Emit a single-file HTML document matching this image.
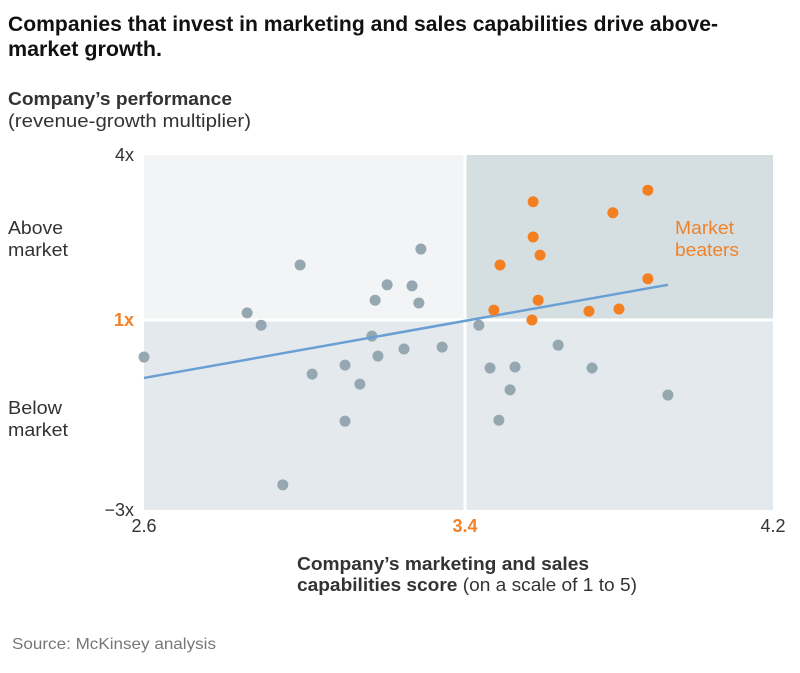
<!DOCTYPE html>
<html><head><meta charset="utf-8"><style>
body{margin:0;background:#fff;font-family:"Liberation Sans",sans-serif;}
svg text{font-family:"Liberation Sans",sans-serif;}
</style></head><body>
<svg width="800" height="668" viewBox="0 0 800 668">
<text x="8" y="31" font-size="21" font-weight="bold" fill="#111" textLength="710" lengthAdjust="spacingAndGlyphs">Companies that invest in marketing and sales capabilities drive above-</text>
<text x="8" y="56" font-size="21" font-weight="bold" fill="#111" textLength="154" lengthAdjust="spacingAndGlyphs">market growth.</text>
<text x="8" y="105" font-size="18" font-weight="bold" fill="#333" textLength="224" lengthAdjust="spacingAndGlyphs">Company’s performance</text>
<text x="8" y="127" font-size="18" fill="#333" textLength="243" lengthAdjust="spacingAndGlyphs">(revenue-growth multiplier)</text>
<g id="bg"></g>
<g id="marks"></g>
<text x="8" y="234" font-size="18" fill="#333" textLength="55" lengthAdjust="spacingAndGlyphs">Above</text>
<text x="8" y="256" font-size="18" fill="#333" textLength="60" lengthAdjust="spacingAndGlyphs">market</text>
<text x="8" y="414" font-size="18" fill="#333" textLength="54" lengthAdjust="spacingAndGlyphs">Below</text>
<text x="8" y="436" font-size="18" fill="#333" textLength="60" lengthAdjust="spacingAndGlyphs">market</text>
<text x="675" y="234" font-size="18" fill="#f0832a" textLength="59" lengthAdjust="spacingAndGlyphs">Market</text>
<text x="675" y="256" font-size="18" fill="#f0832a" textLength="64" lengthAdjust="spacingAndGlyphs">beaters</text>
<text x="297" y="570" font-size="18" font-weight="bold" fill="#333" textLength="292" lengthAdjust="spacingAndGlyphs">Company’s marketing and sales</text>
<text x="297" y="591" font-size="18" fill="#333" textLength="340" lengthAdjust="spacingAndGlyphs"><tspan font-weight="bold">capabilities score</tspan> (on a scale of 1 to 5)</text>
<text x="12" y="649" font-size="16" fill="#777" textLength="204" lengthAdjust="spacingAndGlyphs">Source: McKinsey analysis</text>
</svg>
<script>
const xTicks=[2.6,3.4,4.2];
const yTicks=[4,1,-3];
const yTickLabels=["4x","1x","\u22123x"];
const grayX=[2.60,2.857,2.892,2.989,2.946,3.019,3.101,3.101,3.138,3.168,3.176,3.183,3.206,3.248,3.268,3.285,3.290,3.343,3.436,3.465,3.530,3.517,3.488,3.642,3.730,3.927];
const grayY=[0.22,1.13,0.89,2.0,-2.47,-0.14,0.05,-1.13,-0.35,0.66,1.36,0.24,1.64,0.39,1.62,1.31,2.29,0.43,0.89,-0.01,0.01,-0.47,-1.11,0.47,-0.01,-0.58];
const orangeX=[3.577,3.875,3.784,3.577,3.595,3.491,3.875,3.590,3.475,3.574,3.722,3.800];
const orangeY=[3.15,3.36,2.95,2.51,2.18,2.0,1.75,1.36,1.18,1.0,1.16,1.2];
const trendX=[2.6,3.927];
const trendY=[-0.22,1.64];
const NS="http://www.w3.org/2000/svg";
function xs(v){return v<=3.4?144+(v-2.6)/0.8*321:465+(v-3.4)/0.8*308;}
function ys(v){return v>=1?320-(v-1)*55:320+(1-v)*47.5;}
function mk(t,a,p){const e=document.createElementNS(NS,t);for(const k in a)e.setAttribute(k,a[k]);p.appendChild(e);return e;}
const bg=document.getElementById('bg'),marks=document.getElementById('marks');
const L=xs(2.6),R=xs(4.2),M=xs(3.4),T=ys(4),B=ys(-3),C=ys(1);
let r;
r=mk('rect',{x:L,y:T,width:M-L,height:C-T,fill:'#f2f4f5'},bg);

r=mk('rect',{x:M,y:T,width:R-M,height:C-T,fill:'#d5dfe2'},bg);

r=mk('rect',{x:L,y:C,width:R-L,height:B-C,fill:'#e3e9ec'},bg);

r=mk('line',{x1:L,x2:R,y1:C,y2:C,stroke:'#fff','stroke-width':3},bg);

r=mk('line',{x1:M,x2:M,y1:T,y2:B,stroke:'#fff','stroke-width':3},bg);

yTicks.forEach((v,i)=>{const t=mk('text',{x:134,y:ys(v)+6,'text-anchor':'end','font-size':18,fill:v===1?'#f0832a':'#333','font-weight':v===1?'bold':'normal'},bg);t.textContent=yTickLabels[i];

});
xTicks.forEach(v=>{const t=mk('text',{x:xs(v),y:532,'text-anchor':'middle','font-size':18,fill:v===3.4?'#f0832a':'#333','font-weight':v===3.4?'bold':'normal'},bg);t.textContent=v.toFixed(1);

});
grayX.forEach((v,i)=>{const c=mk('circle',{cx:xs(v),cy:ys(grayY[i]),r:5.5,fill:'#95a8b2'},marks);

});
r=mk('line',{x1:xs(trendX[0]),y1:ys(trendY[0]),x2:xs(trendX[1]),y2:ys(trendY[1]),stroke:'#6a9fd4','stroke-width':2.5},marks);

orangeX.forEach((v,i)=>{const c=mk('circle',{cx:xs(v),cy:ys(orangeY[i]),r:5.5,fill:'#f47f20'},marks);

});
</script>
</body></html>
